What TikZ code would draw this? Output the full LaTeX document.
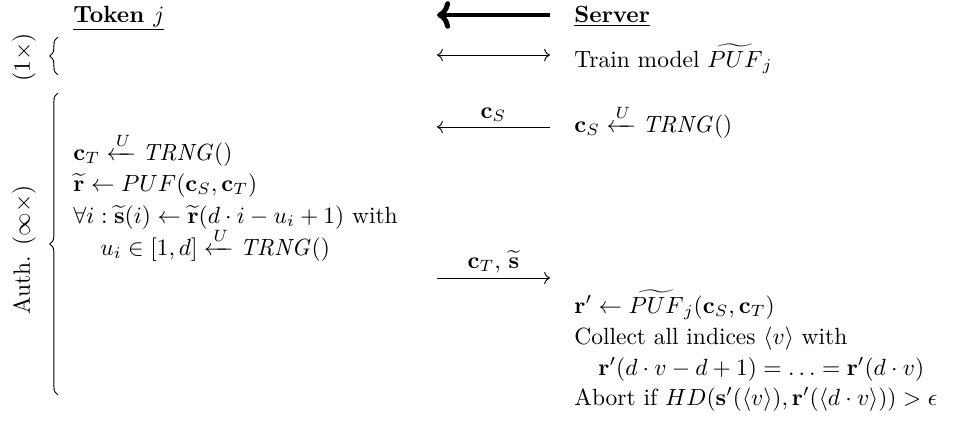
\documentclass[tikz,border=0pt]{standalone}
\usepackage{amsmath}
\usetikzlibrary{arrows.meta,decorations.pathreplacing}
\begin{document}
\begin{tikzpicture}[x=.4265pt, y=-.4265pt,
    line/.style={inner sep=0, anchor=base west},
    msg/.style={-{To}},
    cbrace/.style={decorate, decoration={brace, amplitude=3.5pt}}]
  \useasboundingbox (0,0) rectangle (954,432);
  % parties
  \node[line] (tok) at (73,22) {\underline{\textbf{Token $j$}}};
  \node[line] (srv) at (574,22) {\underline{\textbf{Server}}};
  \coordinate (h1) at (550,15); \coordinate (h2) at (437,15);
  \draw[-{To[scale=.9]}, line width=2.1pt] (h1) -- (h2);
  % enrollment
  \node[rotate=90] (once) at (24,57) {$(1\times)$};
  \draw[cbrace] (58,75) -- (58,37);
  \coordinate (e1) at (437,55); \coordinate (e2) at (550,55);
  \draw[{To}-{To}] (e1) -- (e2);
  \node[line] (train) at (574,67) {Train model $\widetilde{PUF}_j$};
  % authentication
  \node[rotate=90] (auth) at (24,250) {Auth. $(\infty\times)$};
  \draw[cbrace] (58,395) -- (58,93);
  \node[line] (cs) at (574,132) {$\mathbf{c}_S \xleftarrow{U} \mathit{TRNG}()$};
  \coordinate (m1) at (550,127); \coordinate (m2) at (437,127);
  \draw[msg] (m1) -- node[above, inner sep=2pt] {$\mathbf{c}_S$} (m2);
  \node[line] (ct) at (73,160) {$\mathbf{c}_T \xleftarrow{U} \mathit{TRNG}()$};
  \node[line] (r) at (73,191) {$\widetilde{\mathbf{r}} \leftarrow PUF(\mathbf{c}_S, \mathbf{c}_T)$};
  \node[line] (s) at (73,223) {$\forall i : \widetilde{\mathbf{s}}(i) \leftarrow \widetilde{\mathbf{r}}(d\cdot i - u_i + 1)$ with};
  \node[line] (u) at (100,255) {$u_i \in [1,d] \xleftarrow{U} \mathit{TRNG}()$};
  \coordinate (n1) at (437,278); \coordinate (n2) at (550,278);
  \draw[msg] (n1) -- node[above, inner sep=2pt] {$\mathbf{c}_T$, $\widetilde{\mathbf{s}}$} (n2);
  \node[line] (rp) at (574,313) {$\mathbf{r}' \leftarrow \widetilde{PUF}_j(\mathbf{c}_S, \mathbf{c}_T)$};
  \node[line] (coll) at (574,344) {Collect all indices $\langle v\rangle$ with};
  \node[line] (eq) at (598,375) {$\mathbf{r}'(d\cdot v - d + 1) = \ldots = \mathbf{r}'(d\cdot v)$};
  \node[line] (abort) at (574,405) {Abort if $HD(\mathbf{s}'(\langle v\rangle), \mathbf{r}'(\langle d\cdot v\rangle)) > \epsilon$};
\end{tikzpicture}
\end{document}
